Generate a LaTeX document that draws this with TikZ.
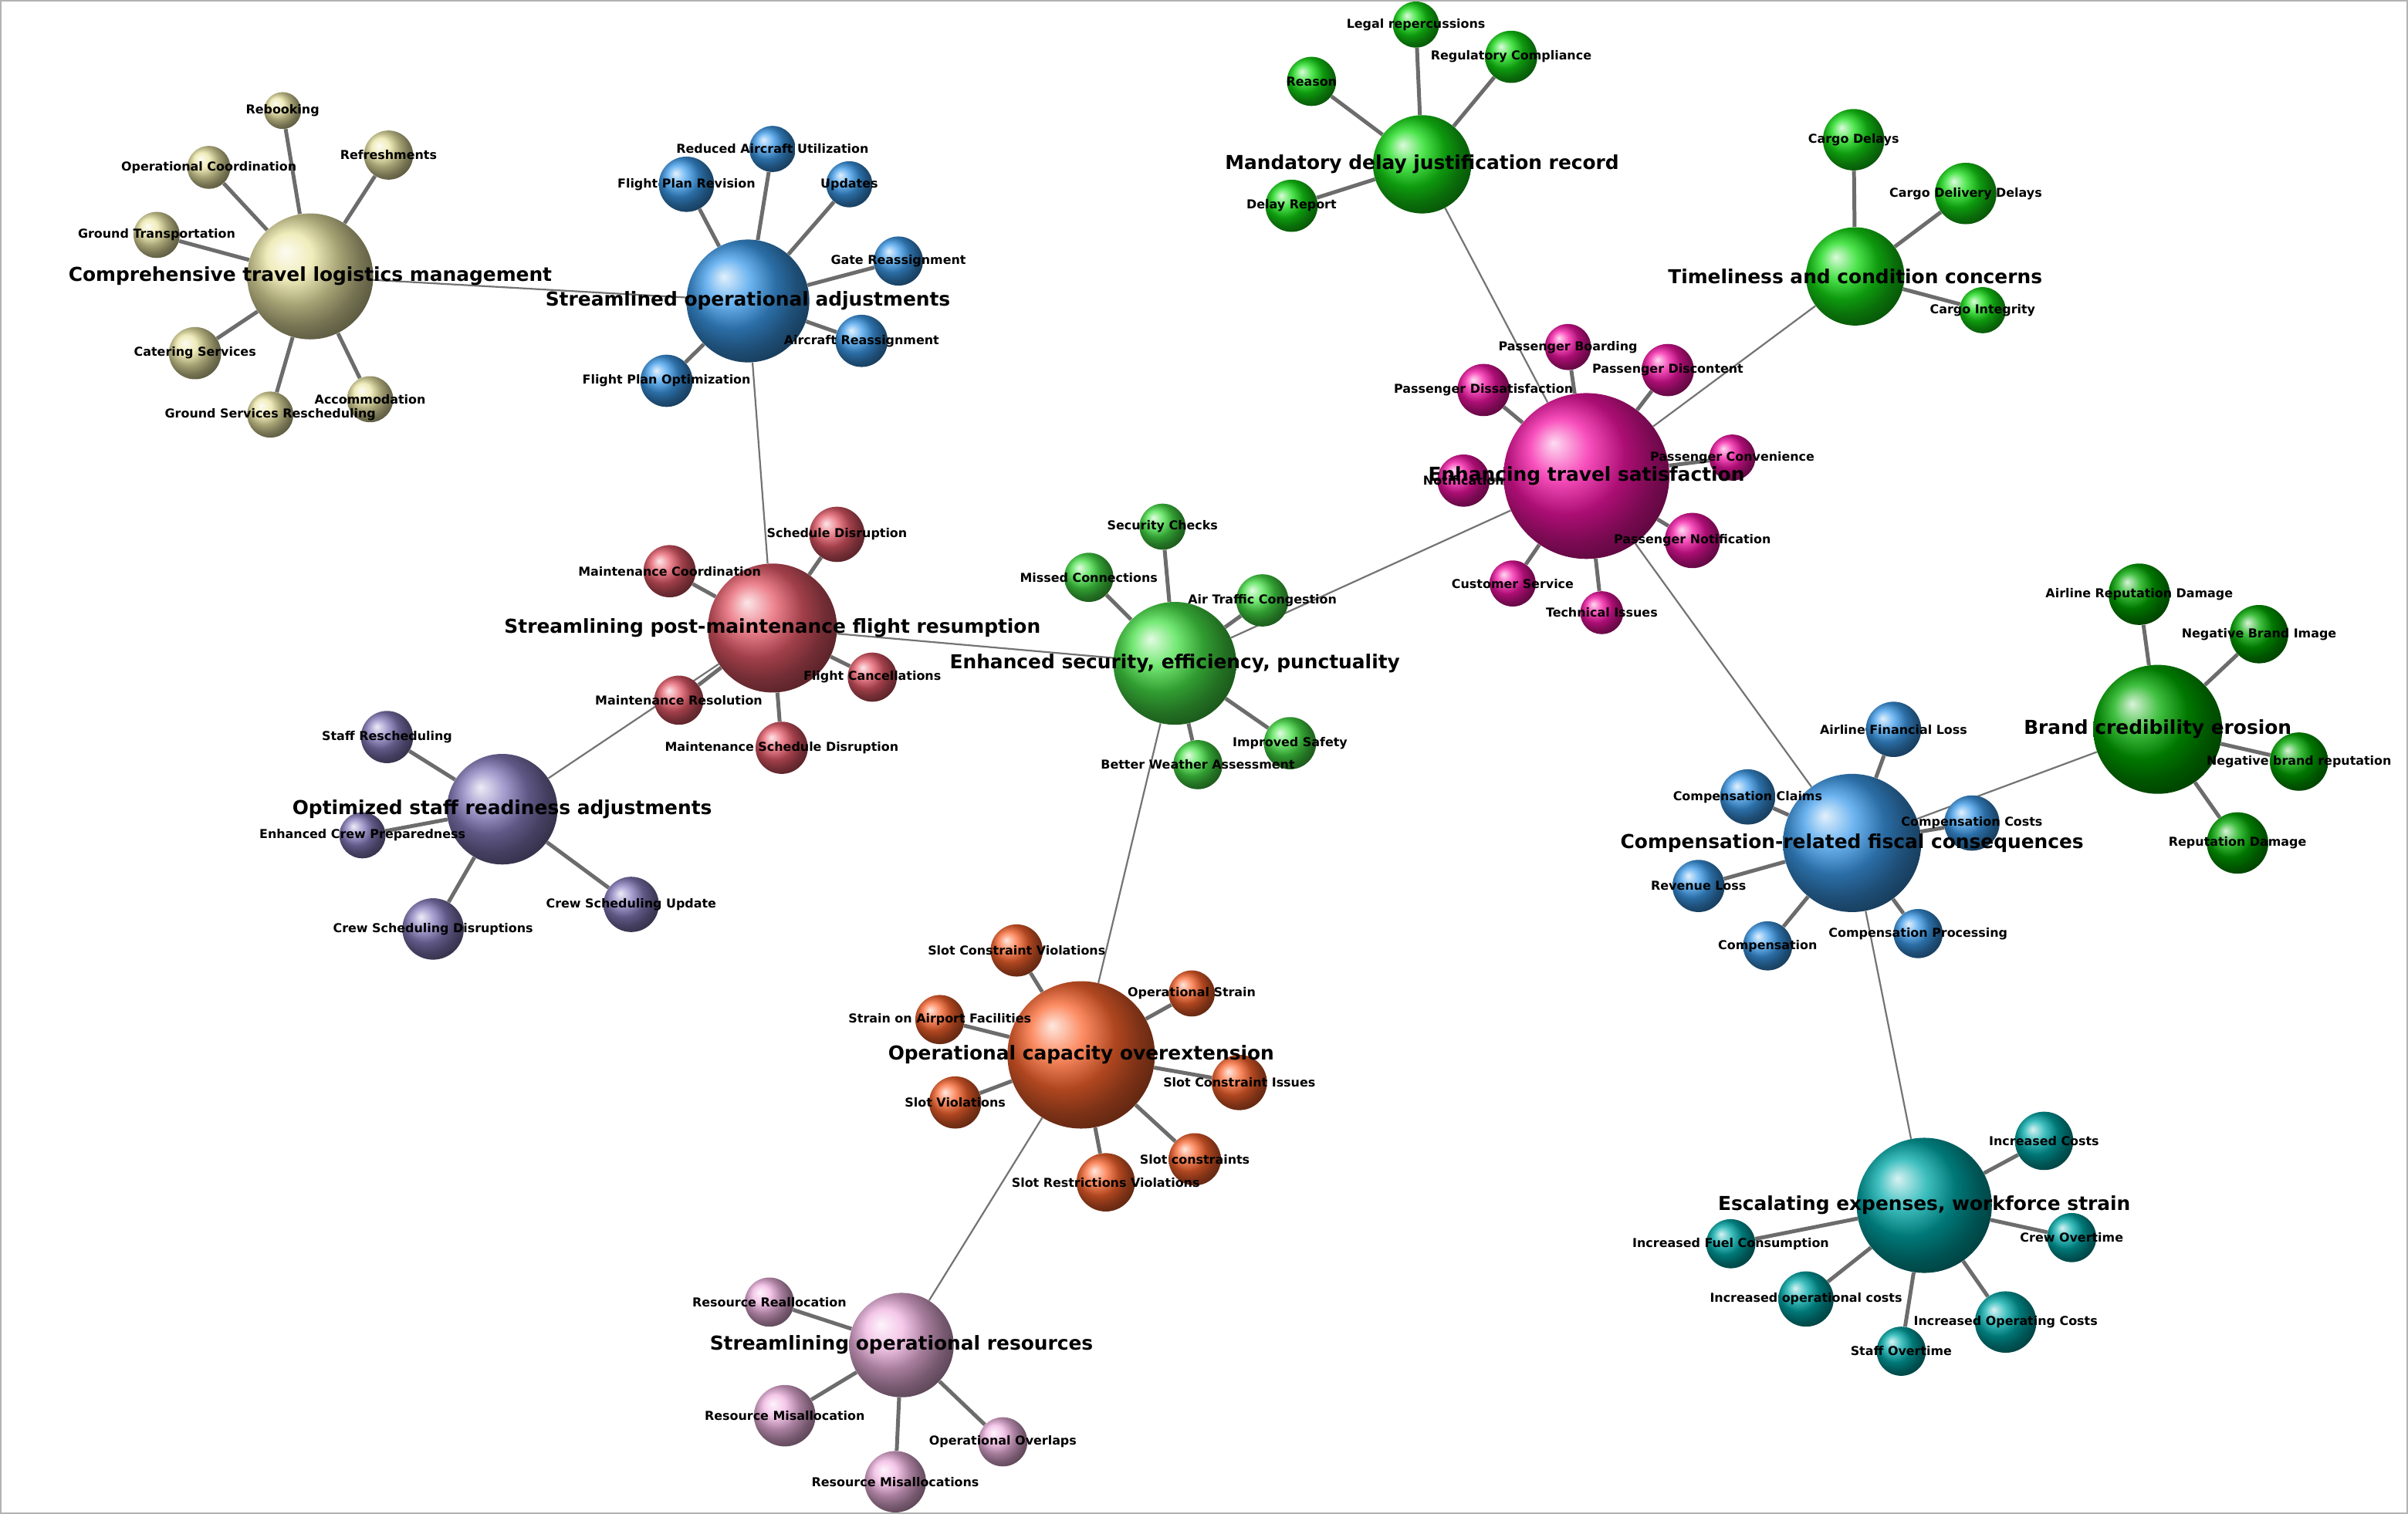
\documentclass[tikz,border=0pt]{standalone}
\usepackage{fontspec}
\setmainfont{DejaVu Sans}
\usetikzlibrary{shadings}
\pgfdeclarelayer{bg}\pgfdeclarelayer{fg}
\pgfsetlayers{bg,main,fg}
\definecolor{ckhaki}{RGB}{235,230,165}
\definecolor{cblue}{RGB}{60,155,235}
\definecolor{cred}{RGB}{230,90,105}
\definecolor{cpurple}{RGB}{135,125,190}
\definecolor{cgreen}{RGB}{70,225,70}
\definecolor{cmag}{RGB}{245,20,165}
\definecolor{cgreen2}{RGB}{20,220,20}
\definecolor{cdgreen}{RGB}{0,170,0}
\definecolor{cteal}{RGB}{0,170,170}
\definecolor{corange}{RGB}{250,100,45}
\definecolor{cpink}{RGB}{240,180,225}
\tikzset{
 ball/.style={circle,shading=ball,inner sep=0pt},
 hublab/.style={font=\fontsize{12.5}{14}\selectfont\bfseries,inner sep=1pt},
 leaflab/.style={font=\fontsize{8}{9.5}\selectfont\bfseries,inner sep=1pt},
 leafedge/.style={line width=2.5pt,gray!85!black},
 hubedge/.style={line width=1.1pt,gray!90!black}
}
\newcommand\hubn[6]{%
 \colorlet{cur}{#5}%
 \node[ball,ball color=#5,minimum size=#4*2pt] (#1) at (#2,#3) {};
 \begin{pgfonlayer}{fg}\node[hublab] (#1l) at (#1) {#6};\end{pgfonlayer}}
\newcommand\leafn[6]{%
 \node[ball,ball color=cur,minimum size=#5*2pt] (#1) at (#3,#4) {};
 \begin{pgfonlayer}{bg}\draw[leafedge] (#2) -- (#1);\end{pgfonlayer}
 \begin{pgfonlayer}{fg}\node[leaflab] (#1l) at (#1) {#6};\end{pgfonlayer}}
\begin{document}
\begin{tikzpicture}[x=1pt,y=-1pt]
\useasboundingbox (0,0) rectangle (1568,986);
\begin{pgfonlayer}{bg}
\fill[white] (0,0) rectangle (1568,986);
\draw[gray!60,line width=0.8pt] (0.5,0.5) rectangle (1567.5,985.5);
\end{pgfonlayer}
% A
\hubn{A}{202}{180}{41}{ckhaki}{Comprehensive travel logistics management}
\leafn{a1}{A}{184}{72}{12}{Rebooking}
\leafn{a2}{A}{136}{109}{14}{Operational Coordination}
\leafn{a3}{A}{253}{101}{16}{Refreshments}
\leafn{a4}{A}{102}{153}{15}{Ground Transportation}
\leafn{a5}{A}{127}{230}{17}{Catering Services}
\leafn{a6}{A}{176}{270}{15}{Ground Services Rescheduling}
\leafn{a7}{A}{241}{260}{15}{Accommodation}
% B
\hubn{B}{487}{196}{40}{cblue}{Streamlined operational adjustments}
\leafn{b1}{B}{503}{97}{15}{Reduced Aircraft Utilization}
\leafn{b2}{B}{447}{120}{18}{Flight Plan Revision}
\leafn{b3}{B}{553}{120}{15}{Updates}
\leafn{b4}{B}{585}{170}{16}{Gate Reassignment}
\leafn{b5}{B}{561}{222}{17}{Aircraft Reassignment}
\leafn{b6}{B}{434}{248}{17}{Flight Plan Optimization}
% C
\hubn{C}{503}{409}{42}{cred}{Streamlining post-maintenance flight resumption}
\leafn{c1}{C}{545}{348}{18}{Schedule Disruption}
\leafn{c2}{C}{436}{372}{17}{Maintenance Coordination}
\leafn{c3}{C}{442}{456}{16}{Maintenance Resolution}
\leafn{c4}{C}{568}{441}{16}{Flight Cancellations}
\leafn{c5}{C}{509}{487}{17}{Maintenance Schedule Disruption}
% D
\hubn{D}{327}{527}{36}{cpurple}{Optimized staff readiness adjustments}
\leafn{d1}{D}{252}{480}{17}{Staff Rescheduling}
\leafn{d2}{D}{236}{544}{15}{Enhanced Crew Preparedness}
\leafn{d3}{D}{282}{605}{20}{Crew Scheduling Disruptions}
\leafn{d4}{D}{411}{589}{18}{Crew Scheduling Update}
% E
\hubn{E}{765}{432}{40}{cgreen}{Enhanced security, efficiency, punctuality}
\leafn{e1}{E}{757}{343}{15}{Security Checks}
\leafn{e2}{E}{709}{376}{16}{Missed Connections}
\leafn{e3}{E}{822}{391}{17}{Air Traffic Congestion}
\leafn{e4}{E}{840}{484}{17}{Improved Safety}
\leafn{e5}{E}{780}{498}{16}{Better Weather Assessment}
% F
\hubn{F}{1033}{310}{54}{cmag}{Enhancing travel satisfaction}
\leafn{f1}{F}{1021}{226}{15}{Passenger Boarding}
\leafn{f2}{F}{1086}{241}{17}{Passenger Discontent}
\leafn{f3}{F}{966}{254}{17}{Passenger Dissatisfaction}
\leafn{f4}{F}{1128}{298}{15}{Passenger Convenience}
\leafn{f5}{F}{953}{313}{17}{Notification}
\leafn{f6}{F}{1102}{352}{18}{Passenger Notification}
\leafn{f7}{F}{985}{380}{15}{Customer Service}
\leafn{f8}{F}{1043}{399}{14}{Technical Issues}
% G
\hubn{G}{926}{107}{32}{cgreen2}{Mandatory delay justification record}
\leafn{g1}{G}{922}{16}{15}{Legal repercussions}
\leafn{g2}{G}{984}{37}{17}{Regulatory Compliance}
\leafn{g3}{G}{854}{53}{16}{Reason}
\leafn{g4}{G}{841}{134}{17}{Delay Report}
% H
\hubn{H}{1208}{180}{32}{cgreen2}{Timeliness and condition concerns}
\leafn{h1}{H}{1207}{91}{20}{Cargo Delays}
\leafn{h2}{H}{1280}{126}{20}{Cargo Delivery Delays}
\leafn{h3}{H}{1291}{202}{15}{Cargo Integrity}
% I
\hubn{I}{1206}{549}{45}{cblue}{Compensation-related fiscal consequences}
\leafn{i1}{I}{1233}{475}{18}{Airline Financial Loss}
\leafn{i2}{I}{1138}{519}{18}{Compensation Claims}
\leafn{i3}{I}{1284}{536}{18}{Compensation Costs}
\leafn{i4}{I}{1106}{577}{17}{Revenue Loss}
\leafn{i5}{I}{1151}{616}{16}{Compensation}
\leafn{i6}{I}{1249}{608}{16}{Compensation Processing}
% J
\hubn{J}{1405}{475}{42}{cdgreen}{Brand credibility erosion}
\leafn{j1}{J}{1393}{387}{20}{Airline Reputation Damage}
\leafn{j2}{J}{1471}{413}{19}{Negative Brand Image}
\leafn{j3}{J}{1497}{496}{19}{Negative brand reputation}
\leafn{j4}{J}{1457}{549}{20}{Reputation Damage}
% K
\hubn{K}{1253}{785}{44}{cteal}{Escalating expenses, workforce strain}
\leafn{k1}{K}{1331}{743}{19}{Increased Costs}
\leafn{k2}{K}{1127}{810}{16}{Increased Fuel Consumption}
\leafn{k3}{K}{1349}{806}{16}{Crew Overtime}
\leafn{k4}{K}{1176}{846}{18}{Increased operational costs}
\leafn{k5}{K}{1306}{861}{20}{Increased Operating Costs}
\leafn{k6}{K}{1238}{880}{16}{Staff Overtime}
% L
\hubn{L}{704}{687}{48}{corange}{Operational capacity overextension}
\leafn{l1}{L}{662}{619}{17}{Slot Constraint Violations}
\leafn{l2}{L}{776}{647}{15}{Operational Strain}
\leafn{l3}{L}{612}{664}{16}{Strain on Airport Facilities}
\leafn{l4}{L}{807}{705}{18}{Slot Constraint Issues}
\leafn{l5}{L}{622}{718}{17}{Slot Violations}
\leafn{l6}{L}{778}{755}{17}{Slot constraints}
\leafn{l7}{L}{720}{770}{19}{Slot Restrictions Violations}
% M
\hubn{M}{587}{876}{34}{cpink}{Streamlining operational resources}
\leafn{m1}{M}{501}{848}{16}{Resource Reallocation}
\leafn{m2}{M}{511}{922}{20}{Resource Misallocation}
\leafn{m3}{M}{653}{939}{16}{Operational Overlaps}
\leafn{m4}{M}{583}{965}{20}{Resource Misallocations}
\begin{pgfonlayer}{bg}
\foreach \p/\q in {A/B,B/C,C/D,C/E,E/F,F/G,F/H,F/I,I/J,I/K,E/L,L/M}
 \draw[hubedge] (\p) -- (\q);
\end{pgfonlayer}
\end{tikzpicture}
\end{document}
